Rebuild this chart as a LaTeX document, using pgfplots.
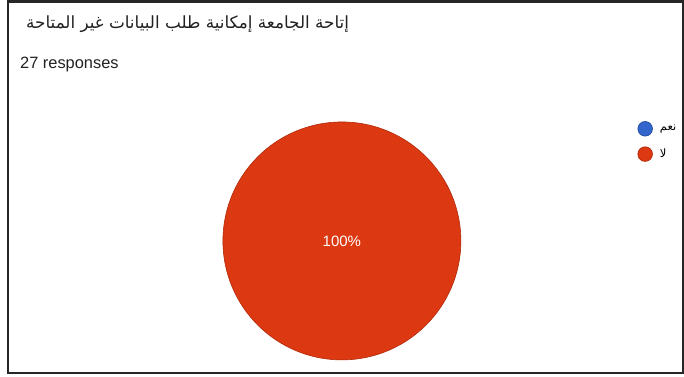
\documentclass[border=0pt]{standalone}
\usepackage{pgfplots}
\pgfplotsset{compat=1.18}
\usepackage{fontspec}
\setmainfont{Liberation Sans}
\newfontfamily\arabicfont[Script=Arabic]{DejaVu Sans}
\TeXXeTstate=1
\definecolor{gred}{HTML}{DC3912}
\definecolor{gredd}{HTML}{B02A0A}
\definecolor{gblue}{HTML}{3366CC}
\definecolor{gblued}{HTML}{1F4AA0}
\definecolor{txt}{HTML}{212121}
\begin{document}
\begin{tikzpicture}
\begin{axis}[
  hide axis, scale only axis,
  width=684bp, height=377bp,
  xmin=0, xmax=684, ymin=0, ymax=377,
  clip=false,
  legend style={at={(axis cs:637.5,256)}, anchor=north west, draw=none, fill=none,
    font=\fontsize{11.5bp}{13bp}\selectfont, row sep=10bp, inner sep=0pt,
    cells={anchor=west}},
]
% frame
\fill[white] (axis cs:0,0) rectangle (axis cs:684,377);
\draw[line width=2.4bp, black!85] (axis cs:8,375.5) -- (axis cs:683,375.5) -- (axis cs:683,4) -- (axis cs:8,4) -- cycle;
% title
\node[anchor=base west, inner sep=0pt, text=txt] at (axis cs:26,348)
  {\arabicfont\fontsize{16.8bp}{18bp}\selectfont\beginR إتاحة الجامعة إمكانية طلب البيانات غير المتاحة\endR};
\node[anchor=base west, inner sep=0pt, text=txt] at (axis cs:20,308)
  {\fontsize{16.4bp}{18bp}\selectfont 27 responses};
% legend
\addlegendimage{legend image code/.code={\filldraw[fill=gblue, draw=gblued, line width=0.7bp] (7.5bp,0bp) circle (7.3bp); \path (20bp,0bp);}}
\addlegendentry{\arabicfont\beginR نعم\endR}
\addlegendimage{legend image code/.code={\filldraw[fill=gred, draw=gredd, line width=0.7bp] (7.5bp,0bp) circle (7.3bp); \path (20bp,0bp);}}
\addlegendentry{\arabicfont\beginR لا\endR}
% pie: لا = 27 of 27 responses (100%), نعم = 0
\addplot[forget plot, only marks, mark=*, mark size=119bp,
  mark options={fill=gred, draw=gredd, line width=0.6bp},
  point meta=explicit symbolic,
  nodes near coords, nodes near coords align={center},
  every node near coord/.style={text=white, font=\fontsize{15bp}{17bp}\selectfont, anchor=center}]
  coordinates {(342,136) [100\%]};
\end{axis}
\end{tikzpicture}
\end{document}
